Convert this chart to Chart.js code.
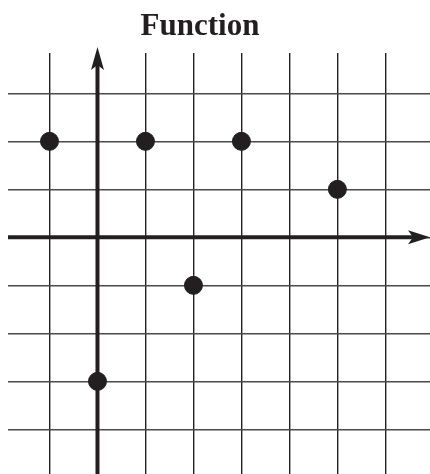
<!DOCTYPE html>
<html>
<head>
<meta charset="utf-8">
<script src="https://cdn.jsdelivr.net/npm/chart.js@4.4.1/dist/chart.umd.min.js"></script>
<style>
    body { margin: 0; background: #ffffff; }
    #wrap { width: 430px; height: 474px; position: relative; }
</style>
</head>
<body>
<div id="wrap"><canvas id="chart" width="430" height="474"></canvas></div>
<script>
// Chart data
const chartTitle = 'Function';
const xValues = [-1, 1, 3, 5, 2, 0];
const yValues = [2, 2, 2, 1, -1, -3];
const xGrid = [-1, 0, 1, 2, 3, 4, 5, 6];
const yGrid = [-4, -3, -2, -1, 0, 1, 2, 3];

const ink = '#231f20';

// Draw both axes with arrow heads, under the points
const axisArrows = {
    id: 'axisArrows',
    beforeDatasetsDraw(chart) {
        const ctx = chart.ctx;
        const area = chart.chartArea;
        const x0 = chart.scales.x.getPixelForValue(0);
        const y0 = chart.scales.y.getPixelForValue(0);
        ctx.save();
        ctx.strokeStyle = ink;
        ctx.fillStyle = ink;
        ctx.lineWidth = 4;

        // vertical axis
        const topTip = area.top - 6;
        ctx.beginPath();
        ctx.moveTo(x0, area.bottom);
        ctx.lineTo(x0, topTip + 16);
        ctx.stroke();
        ctx.beginPath();
        ctx.moveTo(x0, topTip);
        ctx.lineTo(x0 - 6.5, topTip + 23);
        ctx.lineTo(x0, topTip + 18);
        ctx.lineTo(x0 + 6.5, topTip + 23);
        ctx.closePath();
        ctx.fill();

        // horizontal axis
        const rightTip = area.right;
        ctx.beginPath();
        ctx.moveTo(area.left, y0);
        ctx.lineTo(rightTip - 16, y0);
        ctx.stroke();
        ctx.beginPath();
        ctx.moveTo(rightTip, y0);
        ctx.lineTo(rightTip - 22, y0 - 7);
        ctx.lineTo(rightTip - 17, y0);
        ctx.lineTo(rightTip - 22, y0 + 7);
        ctx.closePath();
        ctx.fill();
        ctx.restore();
    },
    afterDraw(chart) {
        const ctx = chart.ctx;
        ctx.save();
        ctx.fillStyle = ink;
        ctx.font = 'bold 31px "Liberation Serif", "Times New Roman", serif';
        ctx.textAlign = 'center';
        ctx.textBaseline = 'alphabetic';
        ctx.fillText(chartTitle, 200, 35);
        ctx.restore();
    }
};

const ctx = document.getElementById('chart').getContext('2d');
new Chart(ctx, {
    type: 'scatter',
    data: {
        datasets: [{
            data: xValues.map((x, i) => ({ x: x, y: yValues[i] })),
            backgroundColor: ink,
            borderColor: ink,
            pointRadius: 9,
            pointHoverRadius: 9
        }]
    },
    options: {
        responsive: false,
        devicePixelRatio: 1,
        animation: false,
        layout: { autoPadding: false, padding: { left: 8, right: 0, top: 53, bottom: 0 } },
        plugins: {
            legend: { display: false },
            title: { display: false },
            tooltip: { enabled: false }
        },
        scales: {
            x: {
                type: 'linear',
                min: -1.865,
                max: 6.93,
                afterBuildTicks: (axis) => { axis.ticks = xGrid.map(v => ({ value: v })); },
                ticks: { display: false },
                border: { display: false },
                grid: { color: ink, lineWidth: 1.4, drawTicks: false }
            },
            y: {
                type: 'linear',
                min: -4.93,
                max: 3.84,
                afterBuildTicks: (axis) => { axis.ticks = yGrid.map(v => ({ value: v })); },
                ticks: { display: false },
                border: { display: false },
                grid: { color: '#4a4a4a', lineWidth: 1.5, drawTicks: false }
            }
        }
    },
    plugins: [axisArrows]
});
</script>
</body>
</html>
